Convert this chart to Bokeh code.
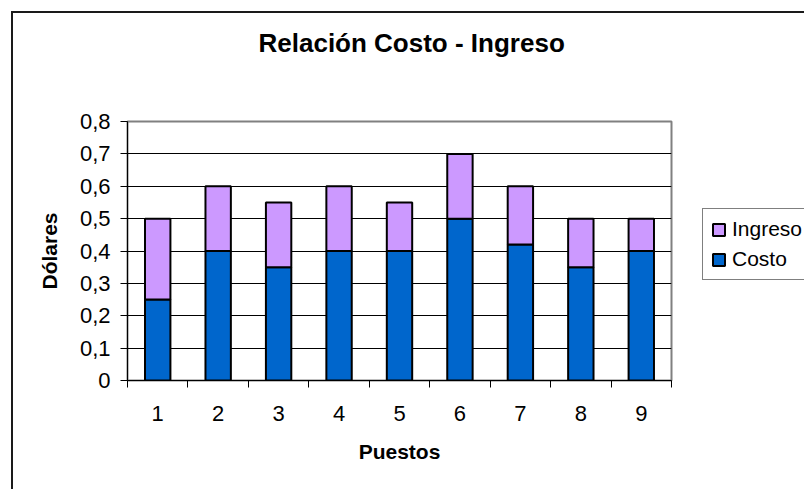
from bokeh.plotting import figure
from bokeh.models import (ColumnDataSource, FixedTicker, CustomJSTickFormatter,
                          Legend, LegendItem, Title)
from bokeh.embed import file_html
from bokeh.resources import INLINE

puestos = [1, 2, 3, 4, 5, 6, 7, 8, 9]
costo = [0.25, 0.40, 0.35, 0.40, 0.40, 0.50, 0.42, 0.35, 0.40]
ingreso = [0.25, 0.20, 0.20, 0.20, 0.15, 0.20, 0.18, 0.15, 0.10]
y_ticks = [0, 0.1, 0.2, 0.3, 0.4, 0.5, 0.6, 0.7, 0.8]

total = [c + i for c, i in zip(costo, ingreso)]
src = ColumnDataSource(dict(x=puestos, costo=costo, total=total,
                            zero=[0] * len(puestos)))

FONT = "Liberation Sans"

p = figure(frame_width=544, frame_height=259, output_backend="svg", toolbar_location=None,
           x_range=(0.5, 9.5), y_range=(0, 0.8),
           min_border_left=114, min_border_right=133,
           min_border_top=108, min_border_bottom=109)
p.margin = (11, 0, 0, 11)
p.styles = {"border-left": "2px solid #1a1a1a", "border-top": "2px solid #1a1a1a"}

p.background_fill_color = "white"
p.border_fill_color = "white"
p.outline_line_color = "#808080"
p.outline_line_width = 2

spacer = Title(text=" ", text_font_size="1px", standoff=61)
p.add_layout(spacer, "above")
t = Title(text="Relación Costo - Ingreso", align="left", offset=131,
          text_font=FONT, text_font_size="26px", text_font_style="bold",
          text_color="black", standoff=0)
p.add_layout(t, "above")

r_costo = p.vbar(x="x", bottom="zero", top="costo", width=0.42, source=src,
                 fill_color="#0066CC", line_color="black", line_width=2)
r_ing = p.vbar(x="x", bottom="costo", top="total", width=0.42, source=src,
               fill_color="#CC99FF", line_color="black", line_width=2)

# y axis
p.yaxis.ticker = FixedTicker(ticks=y_ticks)
p.yaxis.formatter = CustomJSTickFormatter(
    code="return tick === 0 ? '0' : tick.toFixed(1).replace('.', ',');")
p.yaxis.axis_label = "Dólares"
p.yaxis.axis_label_text_font = FONT
p.yaxis.axis_label_text_font_size = "21px"
p.yaxis.axis_label_text_font_style = "bold"
p.yaxis.axis_label_text_color = "black"
p.yaxis.axis_label_standoff = 16
p.yaxis.major_label_text_font = FONT
p.yaxis.major_label_text_font_size = "22px"
p.yaxis.major_label_text_color = "black"
p.yaxis.major_label_standoff = 10
p.yaxis.major_tick_in = 0
p.yaxis.major_tick_out = 7
p.yaxis.minor_tick_line_color = None
p.yaxis.axis_line_color = "black"
p.yaxis.major_tick_line_color = "black"

# x axis
p.xaxis.ticker = FixedTicker(ticks=puestos,
                             minor_ticks=[v - 0.5 for v in puestos] + [puestos[-1] + 0.5])
p.xaxis.axis_label = "Puestos"
p.xaxis.axis_label_text_font = FONT
p.xaxis.axis_label_text_font_size = "21px"
p.xaxis.axis_label_text_font_style = "bold"
p.xaxis.axis_label_text_color = "black"
p.xaxis.axis_label_standoff = 16
p.xaxis.major_label_text_font = FONT
p.xaxis.major_label_text_font_size = "22px"
p.xaxis.major_label_text_color = "black"
p.xaxis.major_label_standoff = 18
p.xaxis.major_tick_in = 0
p.xaxis.major_tick_out = 0
p.xaxis.minor_tick_in = 0
p.xaxis.minor_tick_out = 7
p.xaxis.minor_tick_line_color = "black"
p.xaxis.axis_line_color = "black"

# grid
p.xgrid.grid_line_color = None
p.ygrid.ticker = FixedTicker(ticks=y_ticks)
p.ygrid.grid_line_color = "black"
p.ygrid.grid_line_width = 1

legend = Legend(items=[LegendItem(label="Ingreso", renderers=[r_ing]),
                       LegendItem(label="Costo", renderers=[r_costo])],
                location=(31, 100), orientation="vertical",
                label_text_font=FONT, label_text_font_size="21px",
                label_text_color="black",
                glyph_width=15, glyph_height=15, label_standoff=6,
                padding=8, spacing=6, margin=0,
                border_line_color="black", border_line_width=1,
                background_fill_color="white", background_fill_alpha=1)
p.add_layout(legend, "right")

open("out.html", "w").write(file_html(p, INLINE))
